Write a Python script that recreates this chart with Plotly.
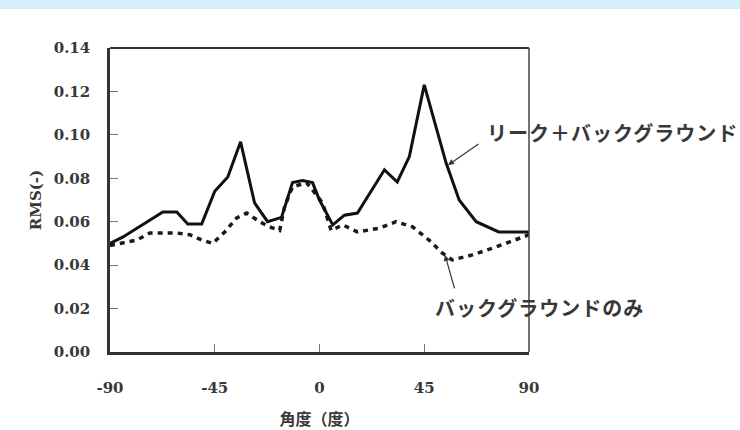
import plotly.graph_objects as go

# Solid: leak + background
leak_angle = [-90, -84.4, -67.3, -61.3, -56.6, -50.6, -45, -39.4, -33.9, -27.9, -22.3, -16.3,
              -11.6, -7.3, -3, 0, 5.7, 10.7, 16.3, 27.9, 33.4, 38.6, 45, 54.4, 60, 67.3, 77, 90]
leak_rms = [0.050, 0.053, 0.0645, 0.0645, 0.059, 0.059, 0.074, 0.0806, 0.0968, 0.0687, 0.060, 0.062,
            0.078, 0.079, 0.078, 0.070, 0.0585, 0.063, 0.064, 0.0839, 0.0783, 0.090, 0.123, 0.087,
            0.070, 0.060, 0.0553, 0.0553]

# Dotted: background only
bg_angle = [-90, -78.4, -72.9, -61.3, -55.7, -50.6, -45.9, -40.7, -35.6, -31.3, -25.7, -21.4,
            -17.1, -15, -11.6, -5.6, -3, 1.3, 5, 10, 16.3, 25.7, 32.9, 40, 47, 52.7, 57, 65.6,
            75.9, 85.7, 90]
bg_rms = [0.049, 0.0516, 0.0548, 0.0548, 0.054, 0.0516, 0.050, 0.0553, 0.0617, 0.064, 0.060, 0.0576,
          0.056, 0.067, 0.076, 0.078, 0.0746, 0.0687, 0.056, 0.0585, 0.0553, 0.057, 0.060, 0.0576,
          0.0516, 0.0456, 0.0424, 0.0447, 0.0484, 0.0525, 0.054]

x_ticks = [-90, -45, 0, 45, 90]
x_ticklabels = ["-90", "-45", "0", "45", "90"]
y_ticks = [0.00, 0.02, 0.04, 0.06, 0.08, 0.10, 0.12, 0.14]
y_ticklabels = ["0.00", "0.02", "0.04", "0.06", "0.08", "0.10", "0.12", "0.14"]

label_leak = "リーク＋バックグラウンド"
label_bg = "バックグラウンドのみ"
x_title = "角度（度）"
y_title = "RMS(-)"

fig = go.Figure()
fig.add_trace(go.Scatter(x=bg_angle, y=bg_rms, mode="lines",
                         line=dict(color="#1a1a1a", width=3.5, dash="5px,5px"),
                         showlegend=False, hoverinfo="skip"))
fig.add_trace(go.Scatter(x=leak_angle, y=leak_rms, mode="lines",
                         line=dict(color="#111111", width=3),
                         showlegend=False, hoverinfo="skip"))

serif = "DejaVu Serif"
cjk = "Noto Sans CJK JP"
txt = "#383838"

fig.update_xaxes(range=[-90, 90], tickvals=x_ticks, ticktext=x_ticklabels,
                 ticks="inside", ticklen=8, tickcolor="#777", tickwidth=1,
                 showline=True, linecolor="#333", linewidth=2.5, mirror=False,
                 showgrid=False, zeroline=False, ticklabelstandoff=20, automargin=False,
                 tickfont=dict(family=serif, size=15, color=txt, weight="bold"),
                 title=dict(text=x_title, font=dict(family=cjk, size=16, color=txt, weight="bold"),
                            standoff=22))
fig.update_yaxes(range=[0, 0.14], tickvals=y_ticks, ticktext=y_ticklabels,
                 ticks="inside", ticklen=8, tickcolor="#777", tickwidth=1,
                 showline=True, linecolor="#333", linewidth=2.5, mirror=False,
                 showgrid=False, zeroline=False, ticklabelstandoff=14, automargin=False,
                 tickfont=dict(family=serif, size=15, color=txt, weight="bold"),
                 title=dict(text=y_title, font=dict(family=serif, size=15, color=txt, weight="bold"),
                            standoff=9))

shapes = [
    # top band
    dict(type="rect", xref="paper", yref="paper", x0=-1, x1=2, y0=1 + 39 / 304, y1=1 + 60 / 304,
         fillcolor="#d4effc", line=dict(width=0), layer="below"),
    # top frame
    dict(type="line", xref="paper", yref="paper", x0=0, x1=1, y0=1, y1=1,
         line=dict(color="#333", width=2)),
    # right frame
    dict(type="line", xref="paper", yref="paper", x0=1, x1=1, y0=0, y1=1,
         line=dict(color="#444", width=1.5)),
]

ls = '<span style="letter-spacing:1px">{}</span>'
annotations = [
    dict(x=55.2, y=0.0861, xref="x", yref="y", text="", showarrow=True,
         ax=32, ay=-22, arrowhead=2, arrowsize=1, arrowwidth=1.2, arrowcolor="#333"),
    dict(x=53.9, y=0.0447, xref="x", yref="y", text="", showarrow=True,
         ax=10, ay=35, arrowhead=2, arrowsize=1, arrowwidth=1.2, arrowcolor="#333"),
    dict(x=0.895, xref="paper", y=0.1009, yref="y", text=ls.format(label_leak), showarrow=False,
         xanchor="left", yanchor="middle",
         font=dict(family=cjk, size=20, color=txt, weight="bold")),
    dict(x=0.771, xref="paper", y=0.0207, yref="y", text=ls.format(label_bg), showarrow=False,
         xanchor="left", yanchor="middle",
         font=dict(family=cjk, size=20, color=txt, weight="bold")),
]

fig.update_layout(width=740, height=430, margin=dict(l=110, r=211, t=48, b=78),
                  plot_bgcolor="white", paper_bgcolor="white",
                  shapes=shapes, annotations=annotations)

fig.write_html("out.html", config={"displayModeBar": False},
               post_script="document.body.style.margin='0';")
